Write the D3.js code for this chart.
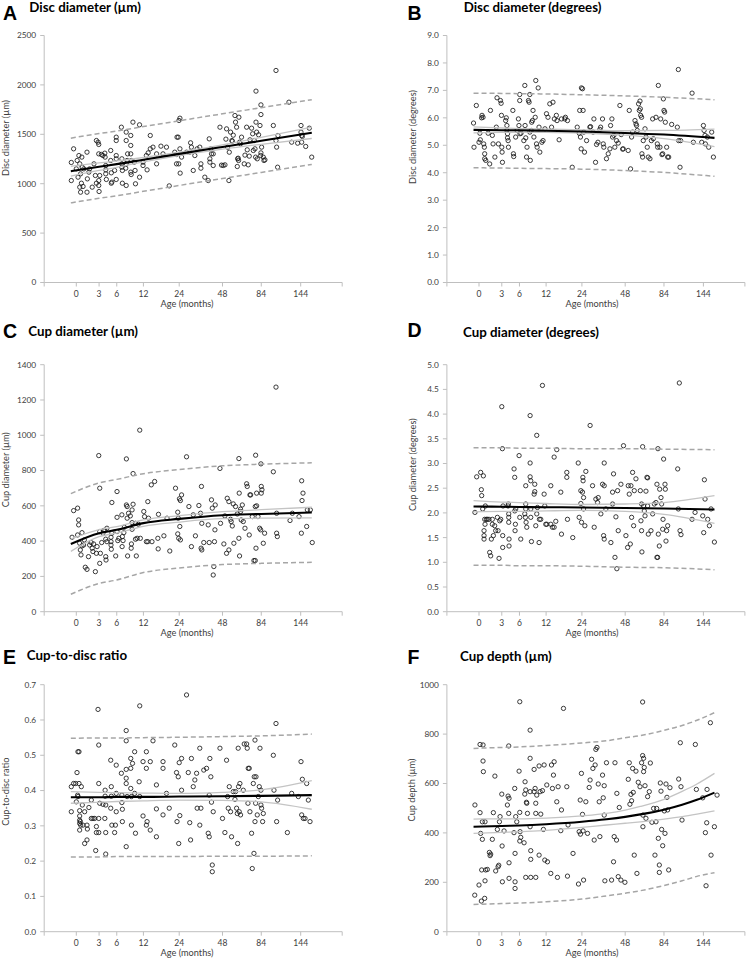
<!DOCTYPE html>
<html><head><meta charset="utf-8">
<script src="https://cdn.jsdelivr.net/npm/d3@7"></script>
<style>
body{margin:0;background:#fff}
svg{display:block}
text{font-family:Lato,'Open Sans',sans-serif}
</style>
</head><body>
<svg id="chart" width="747" height="961"></svg>
<script>
// ---------- shared axis data ----------
const tickAges = [0, 3, 6, 12, 24, 48, 84, 144];
const fitAges = [-0.6, 3, 6, 12, 24, 48, 84, 167];
const fitAgesF = [-0.6, 3, 6, 12, 24, 36, 48, 60, 84, 108, 132, 167];

// ---------- A: Disc diameter (µm) ----------
const agesA = [-0.55,-0.55,-0.3,0,0.1,0.2,0.3,0.4,0.4,0.5,0.5,0.6,0.65,0.7,0.8,0.9,1.3,1.35,1.3,1.55,1.65,2.0,2.25,2.45,2.6,2.6,2.85,2.95,2.95,2.95,2.95,3.0,3.1,3.35,3.6,3.9,3.95,4.05,4.05,4.05,4.15,4.9,4.9,5.0,5.0,5.1,5.6,5.9,5.9,5.9,5.9,5.9,6.9,7.0,7.0,7.0,7.1,7.1,7.8,7.9,7.9,7.9,7.9,8.1,8.2,8.9,8.9,8.9,8.9,9.0,9.0,9.4,9.7,9.9,10.0,11.0,11.0,11.9,11.9,12.8,13.0,13.3,13.9,13.9,14.7,15.8,15.8,17.2,17.9,19.1,20.1,22.2,22.9,22.9,23.1,23.6,23.8,23.9,24.3,24.3,24.4,25.0,27.2,28.7,29.1,29.5,30.4,31.2,32.4,33.8,34.4,34.4,36.6,38.6,39.2,39.6,39.6,40.2,40.6,41.7,41.7,46.2,47.3,48.5,49.8,50.5,51.0,51.8,52.8,53.1,54.1,55.2,55.5,56.3,57.7,58.2,59.1,59.7,60.0,60.5,60.8,61.1,61.7,62.6,63.5,66.0,66.7,68.3,68.9,69.9,70.9,71.6,73.3,74.4,75.1,76.1,76.9,77.6,78.0,78.0,78.7,79.4,80.9,82.5,83.3,83.6,83.6,83.6,84.4,86.4,87.2,88.4,99.3,103,103,103.9,105.3,105.8,122.9,127.5,138.2,144.6,144.6,145.9,145.9,147.2,154,161.6,166.8];
const valsA = [1215,1032,1353,1150,1235,1066,1285,1201,965,914,1100,1005,1269,1167,972,1150,1319,1049,914,1117,1150,965,1201,1083,1005,1437,1420,1397,1302,1032,982,921,1083,1296,1285,1309,1269,1140,1184,1100,1043,1336,1235,1110,1005,1016,1134,1471,1437,1285,1252,1043,1572,1252,1201,1167,1134,1005,1157,1522,1437,1201,982,1235,1302,1488,1387,1302,1117,1235,1093,1623,1218,1134,999,1596,1066,1184,1218,1285,1140,1312,1488,1353,1370,1201,1302,1380,1302,1370,978,1319,1296,1201,1471,1471,1201,1640,1663,1353,1107,1269,1319,1319,1414,1370,1134,1285,1353,1370,1201,1157,1066,1032,1454,1252,1218,1353,1302,1302,1184,1572,1188,1184,1191,1451,1555,1370,1032,1319,1522,1437,1430,1491,1690,1623,1572,1174,1252,1258,1235,1673,1420,1404,1471,1201,1289,1572,1343,1191,1279,1444,1562,1505,1336,1437,1353,1269,1937,1623,1522,1252,1495,1589,1285,1312,1798,1700,1370,1269,1235,1242,1589,2146,1437,1370,1167,1488,1825,1420,1410,1589,1522,1488,1420,1478,1377,1562,1269];
const meanA = [1126,1172,1198,1243,1302,1372,1434,1515];
const ciHiA = [1176,1210,1230,1265,1319,1394,1469,1572];
const ciLoA = [1076,1134,1166,1221,1285,1350,1399,1458];
const piHiA = [1461,1507,1533,1578,1637,1707,1769,1850];
const piLoA = [806,852,878,923,982,1052,1114,1195];

// ---------- B: Disc diameter (degrees) ----------
const agesB = [-0.6,-0.55,-0.3,0,0.1,0.15,0.3,0.35,0.47,0.55,0.63,0.67,0.67,0.8,1.1,1.3,1.4,1.65,1.75,2.0,2.2,2.3,2.5,2.8,2.9,2.95,3.0,3.05,3.1,3.6,3.7,3.8,3.8,3.9,3.9,4.0,4.05,4.8,4.9,4.95,5.3,5.55,5.8,5.9,6.05,6.05,6.1,6.3,6.85,7.05,7.1,7.24,7.4,7.5,7.8,7.94,8.1,8.1,8.2,8.4,8.5,8.67,8.8,9.0,9.3,9.43,9.6,9.75,10.0,10.2,10.4,10.9,11.2,11.7,12.1,12.5,13.0,13.5,13.9,14.3,14.9,15.1,15.75,16.5,17.6,17.8,18.5,20.2,22.1,22.9,23.1,23.4,23.7,23.8,24.25,24.5,24.8,25.1,26,27.5,27.8,29,29.4,30.2,30.7,31.4,32.4,32.8,33.8,34.2,34.5,36,37,38,38.4,39.2,39.6,40.4,41,42.1,43.2,44.3,45.2,46.2,46.6,50.2,51,52,52.8,53.6,55.5,56.3,56.8,57.4,58.5,59.1,59.7,60,60.3,61.1,61.4,62,62.6,64.2,65.1,66.3,67.3,68.9,70.3,71.6,72.3,75.1,76.5,76.9,77.6,79.4,80.2,81.7,82.5,83.3,84,84.8,85.6,87.2,88.4,89.7,93.5,101.1,102.5,103,104.9,105.8,123.6,125.8,140.8,144,145.3,147.2,147.9,151.9,154.6,160.9,164.6];
const valsB = [5.81,4.93,6.45,5.11,5.44,5.2,6.0,6.09,6.02,5.05,4.93,4.69,4.51,4.45,5.44,4.32,6.27,5.36,5.05,4.57,5.66,6.73,5.05,6.63,6.53,6.09,4.93,4.75,4.38,5.9,6.0,5.72,5.54,5.42,5.27,5.17,4.93,6.27,4.69,4.59,5.3,5.54,5.96,5.72,6.63,6.85,5.42,5.44,5.17,7.18,5.72,5.27,4.57,4.93,6.63,6.57,6.85,5.48,4.45,5.54,5.84,5.9,6.27,5.3,6.02,7.36,5.05,4.93,7.09,5.66,4.75,5.11,5.17,5.6,6.15,6.02,6.51,5.66,6.57,5.96,6.09,5.9,5.2,5.96,5.96,6.02,5.9,4.2,5.66,5.44,6.27,5.3,4.87,7.09,7.06,6.27,5.48,4.75,5.17,5.66,5.68,5.48,5.96,4.38,5.03,5.11,5.58,5.66,5.96,5.05,4.93,4.51,4.69,4.87,5.72,5.96,5.3,5.36,4.93,5.17,5.08,6.45,5.39,4.86,4.87,4.81,6.27,4.14,5.3,5.48,5.9,5.78,5.72,5.54,6.51,6.27,6.61,6.33,6.09,6.02,4.69,4.57,5.17,5.6,5.3,4.93,4.57,4.51,5.17,5.96,5.24,6.02,5.05,4.93,7.18,4.93,5.96,4.66,4.69,6.69,6.27,6.21,5.84,4.93,4.57,4.57,5.76,5.66,7.76,5.17,4.2,5.17,6.9,5.11,5.11,5.72,5.54,5.36,5.05,5.3,4.93,5.48,4.57];
const meanB = [5.56,5.55,5.545,5.53,5.50,5.45,5.39,5.27];
const ciHiB = [5.67,5.63,5.61,5.59,5.56,5.53,5.54,5.59];
const ciLoB = [5.45,5.47,5.48,5.47,5.44,5.37,5.24,4.95];
const piHiB = [6.90,6.89,6.88,6.87,6.84,6.80,6.75,6.66];
const piLoB = [4.18,4.17,4.16,4.15,4.13,4.08,4.01,3.87];

// ---------- C: Cup diameter (µm) ----------
const agesC = [-0.47,-0.3,0.15,0.27,0.27,0.15,0.39,0.47,0.55,0.67,0.67,0.87,0.96,1.08,1.3,1.5,1.65,1.85,2.0,2.1,2.2,2.45,2.6,2.7,3.1,3.1,3.1,3.2,3.4,3.6,3.7,3.9,4.05,4.05,4.1,4.25,4.25,4.95,4.95,4.95,5.0,5.1,5.1,5.8,6.05,6.05,6.05,6.2,6.4,7.0,7.05,7.1,7.24,7.4,7.5,7.94,8.1,8.1,8.2,8.4,8.8,9.0,9.05,9.2,9.2,9.2,9.43,10.0,10.0,10.2,10.4,10.7,11.2,12.1,12.3,12.8,13.2,13.2,13.4,14.2,14.4,15.2,16.2,16.3,16.4,18.2,19.3,20.3,22.5,23.4,23.6,23.4,23.8,24.1,24.25,24.5,24.5,25.0,28.3,29.5,30.4,31.5,33.3,34.2,34.5,34.9,34.7,34.9,36.0,38.6,39.2,40.6,41.1,42.1,41.7,42.5,42.8,43.0,46.6,49.0,49.75,51.0,51.5,52.8,52.8,54.1,54.6,55.5,56.3,56.8,58.2,59.7,61.1,61.4,61.7,62.6,62.6,63.2,64.2,65.1,66.7,68.3,68.9,70.9,71.6,72.3,74.0,75.8,77.2,78.7,77.2,78.0,78.7,80.2,82.1,83.3,84.0,84.0,84.8,86.4,88.0,103.9,104.9,103.9,124.7,128.7,140.8,145.3,146.6,148.5,156.0,157.4,163.8,168,2.95,7.94,9.43,11.05,27.2,46.2,61.1,77.6,83.6,99.3,103.0,145.9];
const valsC = [422,573,587,520,492,435,388,350,322,448,373,378,407,252,240,312,378,392,360,341,384,227,331,369,700,454,274,331,392,445,460,460,411,312,293,473,397,422,397,378,354,619,445,316,681,535,454,403,416,549,369,426,403,448,479,605,596,530,316,558,543,360,384,467,505,577,609,501,411,316,416,496,416,568,539,397,624,397,530,719,397,738,416,356,552,430,530,344,700,564,530,441,416,640,483,407,630,662,596,369,549,430,602,558,360,350,710,501,392,492,392,634,587,256,208,397,464,605,501,384,543,331,643,350,624,524,511,486,611,388,596,554,416,672,316,581,568,520,605,511,473,725,710,435,662,662,539,290,596,600,290,360,672,539,473,464,672,710,691,388,445,445,426,558,517,558,539,445,630,672,483,577,577,392,885,866,783,1029,878,812,868,887,838,793,1273,742];
const meanC = [384,445,464,502,526,547,554,562];
const ciHiC = [412,465,482,520,544,567,578,592];
const ciLoC = [342,425,446,484,508,527,530,532];
const piHiC = [669,730,750,782,806,827,836,844];
const piLoC = [99,160,180,222,248,267,274,280];

// ---------- D: Cup diameter (degrees) ----------
const agesD = [-0.45,-0.26,0.19,0.27,0.31,0.43,0.51,0.59,0.59,0.59,0.67,0.71,0.75,0.87,1.0,1.21,1.3,1.43,1.52,1.65,1.65,1.79,1.97,2.11,2.35,2.45,2.59,2.69,2.84,3.0,3.09,3.14,3.14,3.19,3.99,4.04,4.1,4.1,4.1,4.15,4.15,5.01,5.13,5.13,5.19,5.25,5.31,5.93,6.06,6.25,7.04,7.17,7.24,7.24,7.24,7.31,7.45,8.16,8.16,8.16,8.3,8.3,8.3,8.45,9.05,9.2,9.2,9.43,9.66,9.66,9.82,10.22,10.3,10.63,11.05,11.48,11.65,11.91,12.18,13.28,13.28,13.75,14.24,14.24,14.73,15.03,16.28,16.5,18.27,18.27,18.5,20.4,22.5,22.88,23.56,23.56,23.84,24.25,24.4,24.5,24.7,24.7,25.25,25.68,27.6,28.74,29.54,30.36,31.2,31.55,32.93,33.82,34.4,34.73,34.73,34.73,35.66,38.58,39.6,39.6,40.2,41.1,41.69,42.3,42.77,43.2,45.0,46.8,48.52,49.75,50.25,51.0,51.8,52.28,52.8,53.59,54.4,54.92,56.28,60.0,60.54,61.1,61.1,61.4,62.03,62.9,63.54,64.2,65.08,66.0,66.66,66.66,67.3,69.92,71.6,73.32,75.07,76.1,76.1,76.86,77.2,77.6,78.69,79.1,80.56,81.3,82.9,82.47,83.6,85.2,85.6,86.4,87.2,88.43,101.6,102.5,103.9,104.9,106.3,123.6,128.7,142.7,144.6,145.9,147.2,152.6,156.0,159.5,166.8];
const valsD = [2.01,2.73,2.82,2.47,2.35,2.08,2.75,1.64,1.54,1.47,1.87,1.77,2.14,1.87,1.87,1.87,1.2,1.13,1.47,1.87,1.77,1.54,1.74,1.64,1.91,1.64,1.08,1.84,1.87,4.15,3.3,1.54,1.3,2.14,2.14,2.18,1.98,1.91,1.81,1.47,1.33,2.89,2.72,2.04,1.64,1.77,2.08,3.16,1.91,1.47,1.98,1.91,2.08,2.18,2.55,1.81,1.71,3.97,3.01,2.73,2.65,2.08,1.91,1.42,2.38,2.43,2.58,1.74,3.57,1.98,2.11,1.4,1.87,1.87,4.58,2.38,2.14,1.77,1.77,2.55,1.77,1.71,3.13,1.71,1.83,3.28,2.42,1.57,2.82,2.72,1.87,1.5,3.01,1.91,2.19,2.45,1.81,2.42,2.72,2.65,2.08,2.31,1.74,2.84,3.77,2.55,1.71,2.28,2.21,2.31,1.98,2.58,1.54,2.55,3.01,1.47,2.08,1.4,2.18,2.42,2.79,1.1,1.92,0.87,2.45,1.64,2.58,3.36,1.54,1.3,2.55,2.38,1.37,2.55,1.91,2.82,1.74,2.45,2.69,2.45,1.84,1.64,2.18,1.21,3.34,2.14,2.04,1.94,2.44,2.72,2.71,2.14,1.57,1.64,1.98,2.18,2.21,2.58,1.1,1.1,3.3,1.57,1.33,2.48,2.31,2.18,1.87,1.67,3.09,2.58,2.48,1.43,1.64,1.74,2.89,2.08,4.63,1.64,1.56,1.87,2.01,1.94,1.6,2.67,2.28,1.87,1.74,2.08,1.41];
const meanD = [2.13,2.125,2.12,2.115,2.11,2.10,2.09,2.07];
const ciHiD = [2.25,2.22,2.21,2.19,2.17,2.18,2.21,2.35];
const ciLoD = [2.02,2.03,2.03,2.04,2.05,2.03,1.97,1.79];
const piHiD = [3.32,3.32,3.31,3.31,3.30,3.30,3.29,3.28];
const piLoD = [0.94,0.94,0.93,0.93,0.92,0.90,0.89,0.85];

// ---------- E: Cup-to-disc ratio ----------
const agesE = [-0.55,-0.55,-0.3,-0.07,0,0.08,0.15,0.19,0.19,0.31,0.31,0.39,0.39,0.39,0.39,0.39,0.47,0.51,0.59,0.71,0.79,1.0,1.0,1.3,1.3,1.35,1.55,1.88,1.88,2.11,2.35,2.5,2.6,2.6,2.84,2.95,2.95,2.95,2.95,3.1,3.6,3.9,3.95,3.95,4.05,4.05,4.05,4.9,4.9,5.0,5.0,5.1,5.6,5.75,5.9,5.9,5.9,6.9,7.0,7.0,7.1,7.1,7.9,7.9,7.9,7.9,7.9,7.9,8.1,8.9,8.9,8.9,9.05,9.05,9.3,9.8,9.8,10.0,10.9,11.05,11.05,11.9,11.9,12.8,12.8,12.8,13.0,13.9,13.9,14.7,15.75,15.75,15.75,17.9,17.9,17.9,19.1,20.1,22.2,22.9,23.1,23.6,23.8,24.0,24.25,25.0,25.0,27.2,28.0,28.7,29.1,29.5,30.4,31.2,32.1,32.4,33.8,33.8,34.4,36.0,37.6,38.6,39.2,39.2,39.6,40.2,40.6,41.7,46.2,48.0,49.75,51.0,51.8,52.3,53.1,54.1,54.9,56.3,57.7,58.2,59.1,59.7,60.0,60.5,60.8,61.4,62.0,62.6,65.1,66.0,68.3,68.9,69.6,69.9,70.9,71.6,73.3,75.1,75.8,76.1,76.9,76.9,77.6,78.0,74.0,79.4,80.6,81.7,82.5,83.6,83.6,84.4,85.6,86.4,99.3,100.2,103.0,103.9,105.3,120.3,127.5,139.5,144.6,145.9,147.2,149.2,152.6,156.0,159.5,163.1,41.1,41.1];
const valsE = [0.411,0.34,0.42,0.42,0.368,0.451,0.387,0.51,0.383,0.51,0.42,0.343,0.328,0.316,0.307,0.288,0.312,0.302,0.411,0.359,0.302,0.34,0.25,0.26,0.302,0.291,0.352,0.373,0.321,0.321,0.321,0.23,0.298,0.281,0.63,0.529,0.42,0.321,0.281,0.364,0.361,0.321,0.401,0.384,0.359,0.281,0.22,0.486,0.35,0.411,0.384,0.302,0.281,0.302,0.34,0.472,0.392,0.449,0.387,0.366,0.347,0.312,0.57,0.541,0.46,0.435,0.42,0.241,0.383,0.406,0.491,0.463,0.383,0.302,0.477,0.51,0.392,0.279,0.425,0.64,0.383,0.482,0.328,0.51,0.463,0.302,0.312,0.288,0.482,0.541,0.416,0.348,0.269,0.482,0.463,0.331,0.392,0.35,0.529,0.451,0.312,0.439,0.25,0.479,0.329,0.491,0.401,0.671,0.451,0.309,0.26,0.491,0.411,0.43,0.449,0.35,0.52,0.302,0.35,0.458,0.463,0.279,0.269,0.387,0.491,0.439,0.367,0.34,0.52,0.321,0.281,0.486,0.383,0.35,0.411,0.34,0.269,0.397,0.375,0.397,0.35,0.335,0.25,0.52,0.411,0.34,0.42,0.331,0.401,0.532,0.532,0.52,0.364,0.463,0.463,0.34,0.279,0.42,0.222,0.439,0.543,0.312,0.364,0.439,0.179,0.331,0.383,0.411,0.52,0.401,0.359,0.35,0.312,0.335,0.5,0.401,0.59,0.312,0.373,0.281,0.392,0.383,0.482,0.331,0.432,0.321,0.321,0.42,0.373,0.312,0.189,0.17];
const meanE = [0.381,0.381,0.382,0.382,0.383,0.384,0.385,0.387];
const ciHiE = [0.397,0.395,0.394,0.393,0.392,0.395,0.402,0.428];
const ciLoE = [0.364,0.367,0.369,0.371,0.373,0.372,0.368,0.347];
const piHiE = [0.548,0.549,0.549,0.550,0.551,0.553,0.555,0.560];
const piLoE = [0.212,0.212,0.213,0.213,0.213,0.214,0.214,0.215];

// ---------- F: Cup depth (µm) ----------
const agesF = [-0.47,-0.45,0,0.12,0.12,0.19,0.27,0.31,0.39,0.39,0.47,0.47,0.51,0.67,0.71,0.71,0.79,1.0,1.26,1.35,1.43,1.65,1.79,2.0,2.11,2.35,2.45,2.55,2.65,2.74,3.0,3.05,3.09,3.35,3.88,3.99,4.1,4.1,4.15,4.15,4.15,5.0,5.13,5.19,5.19,5.19,5.31,5.5,5.93,6.06,6.06,6.06,6.12,6.25,6.9,7.04,7.1,7.24,7.24,7.38,7.45,7.59,8.16,8.16,8.16,8.16,8.3,8.3,8.3,9.05,9.05,9.28,9.43,9.43,9.43,9.66,10.22,10.22,10.47,10.63,11.05,11.3,11.48,11.65,12.18,12.36,13.28,13.47,13.75,14.04,14.24,15.03,15.23,15.44,16.28,16.5,17.15,18.27,18.5,18.7,22.6,20.5,22.88,23.3,23.4,23.8,24.25,24.5,24.7,25.68,26.42,27.18,27.6,28.3,28.9,29.54,30.0,30.36,30.9,31.55,32.06,32.4,33.82,34.2,34.73,34.73,35.1,36.0,39.0,40.2,40.6,41.1,42.1,42.3,43.2,43.9,45.0,47.8,50.25,51.0,51.5,52.3,52.8,53.6,54.1,54.9,56.3,57.1,58.2,59.7,61.1,62.03,62.03,62.3,62.3,62.9,62.9,63.5,64.2,65.08,66.66,68.27,69.3,70.9,72.6,74.0,75.07,75.8,77.6,78.7,78.7,79.8,80.56,81.3,82.5,84.4,85.2,86.4,87.6,88.4,89.7,91.3,103.0,105.3,106.3,107.8,131.0,142.7,147.9,149.2,150.5,151.2,158.1,159.5,166.8,172.8,129.2];
const valsF = [148,513,189,758,482,398,124,250,374,445,756,691,648,135,445,206,250,252,321,308,314,374,482,630,246,414,263,269,445,466,557,347,202,408,513,549,752,479,540,279,216,401,580,317,202,175,466,445,650,931,483,367,405,382,360,557,607,574,220,524,520,479,816,702,567,425,328,293,220,657,567,580,520,479,220,553,310,671,567,476,571,414,675,290,594,283,236,675,580,634,688,526,220,587,409,493,904,587,225,432,193,317,405,533,395,641,475,408,209,526,398,584,614,698,661,371,675,738,746,598,526,385,634,542,472,591,206,684,209,283,385,684,371,560,223,503,209,200,617,684,516,556,530,661,564,310,650,236,605,587,684,930,713,472,425,702,648,665,591,459,547,567,683,443,499,310,445,499,378,240,270,602,569,414,348,489,398,598,544,493,250,583,618,765,587,452,576,542,401,186,441,576,846,310,425,553,758];
const meanF = [425,428,430,435,445,455,465,475,494,514,534,563];
const ciHiF = [456,457,457,460,469,479,492,507,536,568,598,641];
const ciLoF = [398,402,405,410,422,432,439,445,456,466,476,489];
const piHiF = [742,746,748,754,764,773,785,794,815,835,856,887];
const piLoF = [110,114,116,121,132,145,156,166,187,206,224,239];

// ---------- panel configuration ----------
const fmtInt = d3.format("d"), fmt1 = d3.format(".1f");
const panels = [
  {letter:"A", title:"Disc diameter (µm)", yTitle:"Disc diameter (µm)", ages:agesA, vals:valsA, fit:fitAges, mean:meanA, ciHi:ciHiA, ciLo:ciLoA, piHi:piHiA, piLo:piLoA, yMax:2500, yStep:500, fmt:fmtInt, col:0, row:0, titleX:29.3, titleY:12, letterY:20, yTitleX:6, yTitleY:138},
  {letter:"B", title:"Disc diameter (degrees)", yTitle:"Disc diameter (degrees)", ages:agesB, vals:valsB, fit:fitAges, mean:meanB, ciHi:ciHiB, ciLo:ciLoB, piHi:piHiB, piLo:piLoB, yMax:9, yStep:1, fmt:fmt1, col:1, row:0, titleX:463.7, titleY:12, letterY:20, yTitleX:412.3, yTitleY:137},
  {letter:"C", title:"Cup diameter (µm)", yTitle:"Cup diameter (µm)", ages:agesC, vals:valsC, fit:fitAges, mean:meanC, ciHi:ciHiC, ciLo:ciLoC, piHi:piHiC, piLo:piLoC, yMax:1400, yStep:200, fmt:fmtInt, col:0, row:1, titleX:28.3, titleY:335.5, letterY:338, yTitleX:5.5, yTitleY:469.7},
  {letter:"D", title:"Cup diameter (degrees)", yTitle:"Cup diameter (degrees)", ages:agesD, vals:valsD, fit:fitAges, mean:meanD, ciHi:ciHiD, ciLo:ciLoD, piHi:piHiD, piLo:piLoD, yMax:5, yStep:0.5, fmt:fmt1, col:1, row:1, titleX:463, titleY:336.5, letterY:336.5, yTitleX:412.3, yTitleY:464.7},
  {letter:"E", title:"Cup-to-disc ratio", yTitle:"Cup-to-disc ratio", ages:agesE, vals:valsE, fit:fitAges, mean:meanE, ciHi:ciHiE, ciLo:ciLoE, piHi:piHiE, piLo:piLoE, yMax:0.7, yStep:0.1, fmt:fmt1, col:0, row:2, titleX:26.7, titleY:660, letterY:663.5, yTitleX:5.5, yTitleY:791.7},
  {letter:"F", title:"Cup depth (µm)", yTitle:"Cup depth (µm)", ages:agesF, vals:valsF, fit:fitAgesF, mean:meanF, ciHi:ciHiF, ciLo:ciLoF, piHi:piHiF, piLo:piLoF, yMax:1000, yStep:200, fmt:fmtInt, col:1, row:2, titleX:460, titleY:661, letterY:663.5, yTitleX:411.3, yTitleY:790}
];

const colOffset = [0, 402.7];
const rowZero = [282.5, 611.7, 931.7];
const plotH = 247;
const axisLeft = 44.2, axisLen = 298;
const letterX = [3, 407.5];
const xTitleX = [187, 592];

const svg = d3.select("#chart");
const axisColor = "#bfbfbf", textColor = "#404040";

panels.forEach(p => {
  const off = colOffset[p.col];
  const y0 = rowZero[p.row];
  const ax = axisLeft + off;
  const x = d3.scaleLog().domain([9, 153]).range([76.3 + off, 300.7 + off]);
  const xa = a => x(a + 9);
  const y = d3.scaleLinear().domain([0, p.yMax]).range([y0, y0 - plotH]);
  const g = svg.append("g");

  // panel letter & title
  g.append("text").attr("x", letterX[p.col]).attr("y", p.letterY)
    .style("font-family", "'Liberation Sans',Arial,sans-serif").style("font-weight", "bold")
    .style("font-size", "19.5px").attr("fill", "#000").text(p.letter);
  g.append("text").attr("x", p.titleX).attr("y", p.titleY)
    .style("font-weight", "bold").style("font-size", "13.3px").attr("fill", "#000").text(p.title);

  // y axis
  const yTicks = d3.range(0, p.yMax + p.yStep / 2, p.yStep);
  g.append("line").attr("x1", ax).attr("x2", ax).attr("y1", y0).attr("y2", y(p.yMax))
    .attr("stroke", axisColor).attr("stroke-width", 1);
  g.selectAll(".yt").data(yTicks).enter().append("line")
    .attr("x1", ax - 4).attr("x2", ax).attr("y1", d => y(d)).attr("y2", d => y(d))
    .attr("stroke", axisColor).attr("stroke-width", 1);
  g.selectAll(".yl").data(yTicks).enter().append("text")
    .attr("x", ax - 8).attr("y", d => y(d)).attr("dy", "0.35em")
    .attr("text-anchor", "end").style("font-size", "8.3px").attr("fill", textColor)
    .text(d => p.fmt(d));
  g.append("text")
    .attr("transform", `translate(${p.yTitleX},${p.yTitleY}) rotate(-90)`)
    .attr("text-anchor", "middle").attr("dy", "0.35em")
    .style("font-size", "9.2px").attr("fill", textColor).text(p.yTitle);

  // x axis
  g.append("line").attr("x1", ax).attr("x2", ax + axisLen).attr("y1", y0).attr("y2", y0)
    .attr("stroke", axisColor).attr("stroke-width", 1);
  const tickXs = [ax, ...tickAges.map(xa), ax + axisLen];
  g.selectAll(".xt").data(tickXs).enter().append("line")
    .attr("x1", d => d).attr("x2", d => d).attr("y1", y0).attr("y2", y0 + 4)
    .attr("stroke", axisColor).attr("stroke-width", 1);
  g.selectAll(".xl").data(tickAges).enter().append("text")
    .attr("x", d => xa(d)).attr("y", y0 + 11.5).attr("dy", "0.35em")
    .attr("text-anchor", "middle").style("font-size", "8.5px").attr("fill", textColor)
    .text(d => d);
  g.append("text").attr("x", xTitleX[p.col]).attr("y", y0 + 21.5).attr("dy", "0.35em")
    .attr("text-anchor", "middle").style("font-size", "9.2px").attr("fill", textColor)
    .text("Age (months)");

  // points
  const n = Math.min(p.ages.length, p.vals.length);
  const pts = d3.range(n).map(i => [p.ages[i], p.vals[i]]);
  g.selectAll(".pt").data(pts).enter().append("circle")
    .attr("cx", d => xa(d[0])).attr("cy", d => y(d[1])).attr("r", 2.15)
    .attr("fill", "none").attr("stroke", "#1a1a1a").attr("stroke-width", 0.85);

  // fitted lines
  const line = d3.line().x(d => xa(d[0])).y(d => y(d[1])).curve(d3.curveMonotoneX);
  const mk = arr => p.fit.map((a, i) => [a, arr[i]]);
  [p.piHi, p.piLo].forEach(arr => {
    g.append("path").attr("d", line(mk(arr))).attr("fill", "none")
      .attr("stroke", "#a6a6a6").attr("stroke-width", 1.5).attr("stroke-dasharray", "5,3");
  });
  [p.ciHi, p.ciLo].forEach(arr => {
    g.append("path").attr("d", line(mk(arr))).attr("fill", "none")
      .attr("stroke", "#c4c4c4").attr("stroke-width", 1.3);
  });
  g.append("path").attr("d", line(mk(p.mean))).attr("fill", "none")
    .attr("stroke", "#000").attr("stroke-width", 2.1);
});
</script>
</body></html>
